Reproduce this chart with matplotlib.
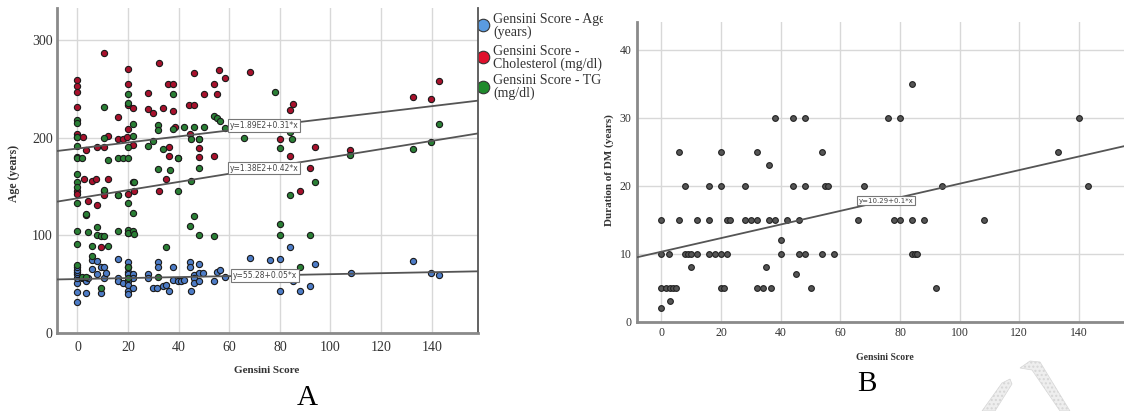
import numpy as np
import matplotlib
matplotlib.use('Agg')
import matplotlib.pyplot as plt
from matplotlib.lines import Line2D
from matplotlib.patches import Rectangle, Polygon

plt.rcParams['font.family'] = ['Liberation Serif', 'DejaVu Serif']

# Panel A: Gensini score vs age / cholesterol / TG
age_x = [0, 0, 0, 0, 0, 0, 0, 0, 1.6, 3.3, 3.3, 4.2, 5.6, 5.6, 7.9, 7.9, 9.2, 10.3, 10.3, 11.4, 9.2,
         16, 16, 16, 18, 20, 20, 20, 20, 20, 20, 20, 20, 22, 22, 22, 28, 28, 30, 31.3, 32, 32, 33.8, 35,
         36.2, 37.8, 37.8, 39.8, 41.1, 42.1, 44.3, 44.3, 45, 46.1, 46.1, 46.1, 48, 48, 49.6, 48,
         54, 55, 56.3, 58.2, 68, 76, 80, 80, 84, 85, 88, 91.8, 93.8, 108, 132.7, 139.6, 142.8]
age_y = [32, 42, 51, 56, 60, 62, 65, 68, 56, 53, 41, 56, 75, 66, 74, 60, 68, 68, 56, 61, 41,
         76, 56, 53, 51, 73, 68, 62, 60, 53, 49, 43, 40, 60, 56, 46, 60, 56, 46, 46, 73, 68, 48, 49,
         43, 68, 54, 53, 53, 54, 73, 68, 43, 59, 56, 51, 71, 61, 61, 53,
         53, 63, 65, 57, 77, 75, 76, 43, 88, 53, 43, 48, 71, 61, 74, 61, 59]

chol_x = [0, 0, 0, 0, 0, 0, 0, 0, 2.2, 3.3, 2.6, 5.9, 7.5, 12.1, 4.2, 7.9, 3.3, 9.2,
          7.9, 10.3, 10.3, 10.3, 10.3, 12.1, 16, 16, 18, 16, 20, 20, 20, 20, 19.7, 20, 20,
          22, 22, 22.3, 28, 28, 30, 32.1, 32.1, 33.8, 34.9, 35.6, 37.8, 37.8, 36.2, 36.2, 38.5, 39.8,
          44.3, 43.9, 46.1, 46.1, 48, 48, 48, 49.9, 54, 55, 54, 56, 58.2, 68.1,
          80, 84, 85, 84, 88, 91.8, 93.8, 107.9, 132.7, 139.6, 142.8]
chol_y = [259, 253, 247, 232, 204, 201, 145, 142, 201, 188, 158, 156, 158, 158, 135, 131, 121, 88,
          191, 191, 287, 145, 141, 202, 221, 199, 199, 141, 270, 255, 234, 209, 201, 142, 102,
          231, 193, 146, 246, 230, 225, 277, 145, 231, 158, 255, 255, 227, 191, 181, 211, 179,
          204, 234, 234, 266, 199, 180, 190, 245, 255, 245, 181, 269, 261, 267,
          199, 181, 235, 228, 146, 169, 191, 188, 242, 240, 258]

tg_x = [10.3, 20, 20, 37.8, 0, 0, 0, 0, 0, 0, 1.6, 10.3, 12.1, 16, 18, 20, 20, 22, 22, 28, 30, 32, 32,
        33.8, 37.8, 42.1, 46.1, 50, 54, 55, 56.3, 58.2, 65.9, 44.8, 48, 39.8, 32, 36.6, 48, 45,
        78, 80, 84.9, 84, 93.8, 84, 0, 0, 0, 22, 10.3, 16, 39.9, 0, 3.3, 20, 21.8, 0, 0, 4.2, 7.9, 7.9,
        9.2, 10.3, 5.6, 12.1, 16, 20, 20, 21.8, 22.3, 34.9, 44.3, 46.1, 48, 54, 80, 80, 91.8, 88, 0,
        5.6, 9.2, 20, 32, 1.6, 3.3, 20, 107.9, 132.7, 139.6, 142.8, 22.3]
tg_y = [232, 245, 236, 245, 218, 215, 201, 192, 180, 179, 179, 200, 177, 179, 179, 179, 191, 214, 202, 192, 197, 213, 208,
        189, 209, 211, 211, 211, 222, 220, 217, 210, 200, 199, 199, 179, 168, 167, 169, 156,
        247, 190, 199, 206, 155, 141, 163, 155, 150, 155, 147, 141, 145, 133, 122, 133, 123, 104, 91, 103, 109, 100,
        99, 99, 89, 89, 104, 106, 102, 104, 101, 88, 110, 120, 100, 99, 112, 100, 100, 68, 70,
        79, 46, 68, 57, 57, 57, 56, 182, 189, 196, 214, 155]

series_labels = ['Gensini Score - Age\n(years)', 'Gensini Score -\nCholesterol (mg/dl)',
                 'Gensini Score - TG\n(mg/dl)']
fit_a = [(55.28, 0.05), (189.0, 0.31), (138.0, 0.42)]
fit_a_text = ['y=55.28+0.05*x', 'y=1.89E2+0.31*x', 'y=1.38E2+0.42*x']

# Panel B: Gensini score vs duration of DM
dm_x = [6, 8, 16, 20, 20, 28, 32, 36, 38, 44, 44, 48, 48, 54, 55, 56,
        0, 6, 12, 16, 22, 23, 28, 30, 32, 36, 38, 42, 46, 66, 78, 80, 84, 88, 108,
        40,
        0, 2.6, 8, 9, 10, 12, 16, 18, 20, 22, 40, 46, 48, 54, 58, 84, 85, 85.6,
        10, 35, 45,
        0, 1.5, 3, 4, 4.8, 20, 21, 32, 34, 36.7, 50, 92,
        3, 0,
        68, 76, 80, 84, 94, 133, 140, 143]
dm_y = [25, 20, 20, 20, 25, 20, 25, 23, 30, 30, 20, 30, 20, 25, 20, 20,
        15, 15, 15, 15, 15, 15, 15, 15, 15, 15, 15, 15, 15, 15, 15, 15, 15, 15, 15,
        12,
        10, 10, 10, 10, 10, 10, 10, 10, 10, 10, 10, 10, 10, 10, 10, 10, 10, 10,
        8, 8, 7,
        5, 5, 5, 5, 5, 5, 5, 5, 5, 5, 5, 5,
        3, 2,
        20, 30, 30, 35, 20, 25, 30, 20]
fit_b = (10.29, 0.1)
fit_b_text = 'y=10.29+0.1*x'

W, H = 1124, 411
fig = plt.figure(figsize=(W / 100, H / 100), dpi=100)


def fpos(x, y):
    return x / W, 1 - y / H


colors = ['#4d7cc7', '#a8112c', '#2a7f35']
legend_colors = ['#5a9be0', '#e0102c', '#1f8a2c']

# ---- panel A
axA = fig.add_axes([57 / W, 1 - 333 / H, 421 / W, 325 / H])
for xs, ys, c in [(age_x, age_y, colors[0]), (chol_x, chol_y, colors[1]), (tg_x, tg_y, colors[2])]:
    axA.scatter(xs, ys, s=20, c=c, edgecolors='#1a1a1a', linewidths=0.8, zorder=3)
axA.set_xlim(-8.1, 158.3)
axA.set_ylim(0, 333)
xl = np.array(axA.get_xlim())
for (b0, b1) in fit_a:
    axA.plot(xl, b0 + b1 * xl, color='#555555', lw=1.3, zorder=4)
box = dict(boxstyle='square,pad=0.25', fc='white', ec='#777777', lw=0.8)
axA.text(61.4, 59, fit_a_text[0], fontsize=5.5, family='DejaVu Sans', color='#444444',
         va='center', ha='left', bbox=box, zorder=5)
axA.text(60.2, 213, fit_a_text[1], fontsize=5.5, family='DejaVu Sans', color='#444444',
         va='center', ha='left', bbox=box, zorder=5)
axA.text(60.2, 169, fit_a_text[2], fontsize=5.5, family='DejaVu Sans', color='#444444',
         va='center', ha='left', bbox=box, zorder=5)
axA.set_xticks(np.arange(0, 141, 20))
axA.set_yticks([0, 100, 200, 300])
axA.grid(True, color='#d8d8d8', lw=1)
axA.set_axisbelow(True)
axA.tick_params(axis='x', length=0, labelsize=10, pad=6, colors='#333333')
axA.tick_params(axis='y', length=0, labelsize=10, pad=3, colors='#333333')
axA.spines['top'].set_visible(False)
for s in ['left', 'bottom']:
    axA.spines[s].set_color('#8a8a8a')
    axA.spines[s].set_linewidth(2)
axA.spines['right'].set_color('#555555')
axA.spines['right'].set_linewidth(1.3)
axA.set_xlabel('Gensini Score', fontsize=8, fontweight='bold', color='#333333')
axA.xaxis.set_label_coords(0.499, -0.102)
axA.set_ylabel('Age (years)', fontsize=8.5, fontweight='bold', color='#333333')
axA.yaxis.set_label_coords(-0.088, 0.49)

# legend of panel A, cut off by panel B
for i, (lab, lc) in enumerate(zip(series_labels, legend_colors)):
    cy = [25, 57, 87][i]
    ty = [13, 45, 74][i]
    fig.add_artist(Line2D([483 / W], [1 - cy / H], marker='o', markersize=9, color=lc,
                          markeredgecolor='#333333', markeredgewidth=0.8,
                          transform=fig.transFigure, zorder=-2))
    fig.text(*fpos(493, ty), lab, fontsize=10, va='top', ha='left', linespacing=1.0,
             color='#333333', zorder=-2)
fig.add_artist(Rectangle(fpos(603, 110), 40 / W, 110 / H, transform=fig.transFigure,
                         facecolor='white', edgecolor='none', zorder=-1))

# ---- panel B
axB = fig.add_axes([637 / W, 1 - 321.7 / H, 487 / W, 300 / H])
axB.scatter(dm_x, dm_y, s=17, c='#555555', edgecolors='#222222', linewidths=0.8, zorder=3)
axB.set_xlim(-8.2, 155.1)
axB.set_ylim(0, 44.1)
xl = np.array(axB.get_xlim())
axB.plot(xl, fit_b[0] + fit_b[1] * xl, color='#555555', lw=1.3, zorder=4)
axB.text(66.2, 17.8, fit_b_text, fontsize=5, family='DejaVu Sans', color='#444444',
         va='center', ha='left', bbox=box, zorder=5)
axB.set_xticks(np.arange(0, 141, 20))
axB.set_yticks([0, 10, 20, 30, 40])
axB.grid(True, color='#d8d8d8', lw=1)
axB.set_axisbelow(True)
axB.tick_params(length=0, labelsize=8.5, pad=4, colors='#333333')
axB.spines['top'].set_visible(False)
axB.spines['right'].set_visible(False)
for s in ['left', 'bottom']:
    axB.spines[s].set_color('#8a8a8a')
    axB.spines[s].set_linewidth(2)
axB.set_xlabel('Gensini Score', fontsize=7, fontweight='bold', color='#333333')
axB.xaxis.set_label_coords(0.509, -0.104)
axB.set_ylabel('Duration of DM (years)', fontsize=8, fontweight='bold', color='#333333')
axB.yaxis.set_label_coords(-0.047, 0.506)

fig.text(*fpos(307, 398), 'A', fontsize=21, ha='center', va='center')
fig.text(*fpos(867, 384), 'B', fontsize=21, ha='center', va='center')

# faint watermark stroke at the bottom right
for pts in [[(1020, 368), (1030, 361), (1040, 362), (1070, 411), (1060, 411), (1032, 370)],
            [(1002, 383), (1010, 379), (1012, 384), (995, 411), (982, 411)]]:
    fig.add_artist(Polygon([fpos(x, y) for x, y in pts], closed=True, transform=fig.transFigure,
                           facecolor='#eeeeee', edgecolor='#d6d6d6', hatch='....', lw=0.5))

fig.savefig('out.png', dpi=100)
